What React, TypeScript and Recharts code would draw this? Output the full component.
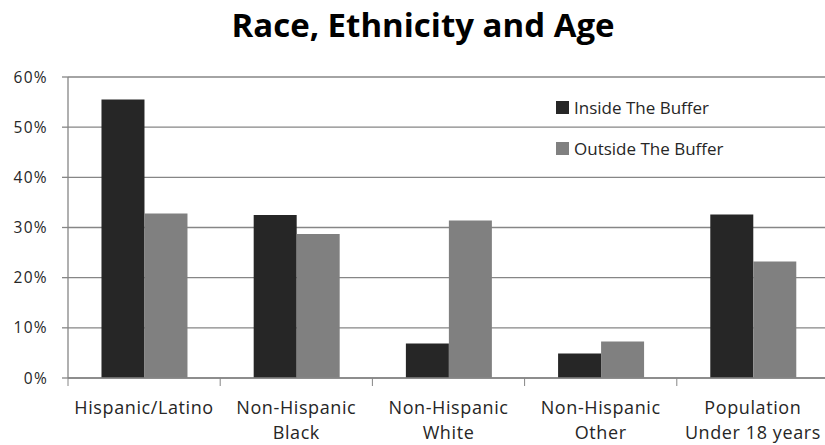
import { BarChart, Bar, XAxis, YAxis, CartesianGrid, Legend } from 'recharts';

const categories = [
  'Hispanic/Latino',
  'Non-Hispanic\nBlack',
  'Non-Hispanic\nWhite',
  'Non-Hispanic\nOther',
  'Population\nUnder 18 years',
];
const insideBuffer = [55.5, 32.5, 6.9, 4.9, 32.6];
const outsideBuffer = [32.8, 28.7, 31.4, 7.3, 23.2];
const yTicks = [0, 10, 20, 30, 40, 50, 60];

const data = categories.map((name, i) => ({
  name,
  inside: insideBuffer[i],
  outside: outsideBuffer[i],
}));

const FONT = '"Open Sans", "DejaVu Sans", sans-serif';
const AXIS = '#868686';
const TEXT = '#262626';

function CategoryTick(props: any) {
  const { x, y, payload, index } = props;
  const half = payload.offset || 0;
  const lines = String(payload.value).split('\n');
  return (
    <g>
      <line x1={x - half} x2={x - half} y1={y - 8} y2={y} stroke={AXIS} strokeWidth={1} />
      {index === categories.length - 1 && (
        <line x1={x + half} x2={x + half} y1={y - 8} y2={y} stroke={AXIS} strokeWidth={1} />
      )}
      <text
        x={x}
        y={y}
        textAnchor="middle"
        fill={TEXT}
        fontSize={18}
        fontFamily={FONT}
        letterSpacing={0.6}
      >
        {lines.map((l, i) => (
          <tspan key={i} x={x} dy={i === 0 ? 28 : 25}>{l}</tspan>
        ))}
      </text>
    </g>
  );
}

function LegendList(props: any) {
  const { payload } = props;
  return (
    <div>
      {payload.map((p: any) => (
        <div key={p.value} style={{ display: 'flex', alignItems: 'center', height: 41 }}>
          <span style={{ width: 13, height: 13, background: p.color, marginRight: 5 }} />
          <span style={{ fontSize: 17, fontFamily: FONT, color: TEXT }}>{p.value}</span>
        </div>
      ))}
    </div>
  );
}

export default function App() {
  return (
    <div style={{ position: 'absolute', left: 0, top: 0, width: 825, height: 445, overflow: 'hidden', background: '#fff' }}>
      <div
        style={{
          position: 'absolute',
          left: 423,
          top: 2,
          transform: 'translateX(-50%)',
          whiteSpace: 'nowrap',
          fontFamily: FONT,
          fontWeight: 700,
          fontSize: 33,
          color: '#000',
        }}
      >
        Race, Ethnicity and Age
      </div>
      <BarChart
        width={829}
        height={445}
        data={data}
        margin={{ top: 77, right: 0, left: 0, bottom: 0 }}
        barCategoryGap="22%"
        barGap={0}
      >
        <CartesianGrid vertical={false} stroke={AXIS} strokeWidth={1.3} />
        <XAxis
          dataKey="name"
          height={67}
          interval={0}
          tickLine={false}
          axisLine={{ stroke: AXIS, strokeWidth: 1.3 }}
          tick={<CategoryTick />}
        />
        <YAxis
          width={68}
          domain={[0, 60]}
          ticks={yTicks}
          interval={0}
          tickFormatter={(v) => `${v}%`}
          axisLine={{ stroke: AXIS, strokeWidth: 1.3 }}
          tickLine={{ stroke: AXIS, strokeWidth: 1.3 }}
          tickSize={6}
          tickMargin={14}
          tick={{ fill: TEXT, fontSize: 15.5, fontFamily: FONT, letterSpacing: 1.3 }}
        />
        <Legend
          layout="vertical"
          align="center"
          verticalAlign="middle"
          wrapperStyle={{ top: 87, left: 556, width: 260, height: 90 }}
          content={<LegendList />}
        />
        <Bar dataKey="inside" name="Inside The Buffer" fill="#262626" isAnimationActive={false} />
        <Bar dataKey="outside" name="Outside The Buffer" fill="#808080" isAnimationActive={false} />
      </BarChart>
    </div>
  );
}
